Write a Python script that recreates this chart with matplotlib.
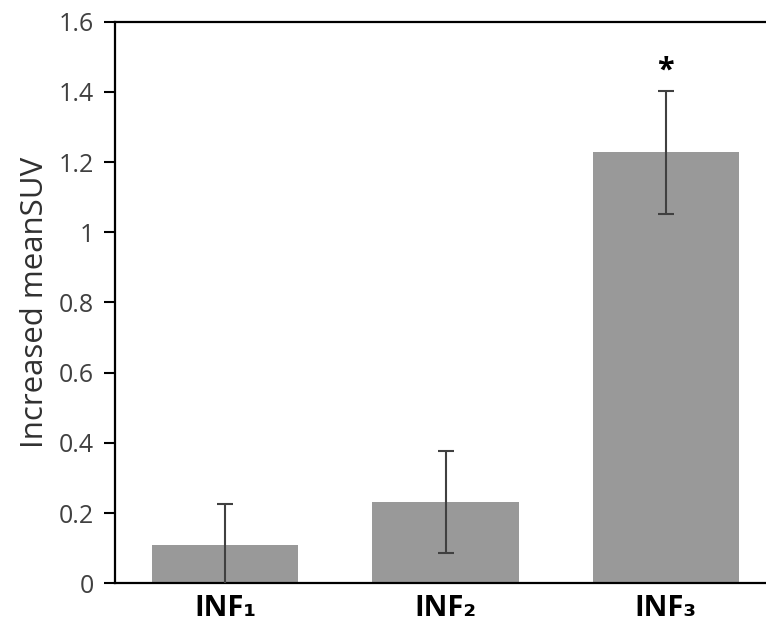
import matplotlib.pyplot as plt

groups = ["INF\u2081", "INF\u2082", "INF\u2083"]
mean_suv = [0.109, 0.231, 1.228]
suv_err = [0.118, 0.145, 0.175]
star_y = 1.46

plt.rcParams["font.family"] = ["Open Sans", "DejaVu Sans"]

fig = plt.figure(figsize=(7.66, 6.33), dpi=100)
ax = fig.add_axes([115 / 766, 49.7 / 633, (776 - 115) / 766, 561.6 / 633])

x = list(range(len(groups)))
ax.bar(x, mean_suv, width=0.665, color="#999999", zorder=2)
ax.errorbar(x, mean_suv, yerr=suv_err, fmt="none", ecolor="#404040",
            elinewidth=1.5, capsize=6, capthick=1.5, zorder=3)
ax.text(2, star_y, "*", ha="center", va="center", fontsize=22,
        fontweight="bold", color="black")

ax.set_xlim(-0.5, 2.5)
ax.set_ylim(0, 1.6)
ax.set_yticks([0, 0.2, 0.4, 0.6, 0.8, 1.0, 1.2, 1.4, 1.6])
ax.set_yticklabels(["0", "0.2", "0.4", "0.6", "0.8", "1", "1.2", "1.4", "1.6"])
ax.set_xticks(x)
ax.set_xticklabels(groups, fontsize=21, fontweight="bold")
ax.tick_params(axis="x", length=0, pad=8)
ax.tick_params(axis="y", length=8, width=1.5, pad=7, labelsize=18,
               labelcolor="#404040", direction="out")
ax.set_ylabel("Increased meanSUV", fontsize=22.5, color="#303030", labelpad=6)

for side in ["top", "bottom", "left"]:
    ax.spines[side].set_linewidth(1.6)
ax.spines["right"].set_visible(False)

fig.savefig("out.png", dpi=100)
